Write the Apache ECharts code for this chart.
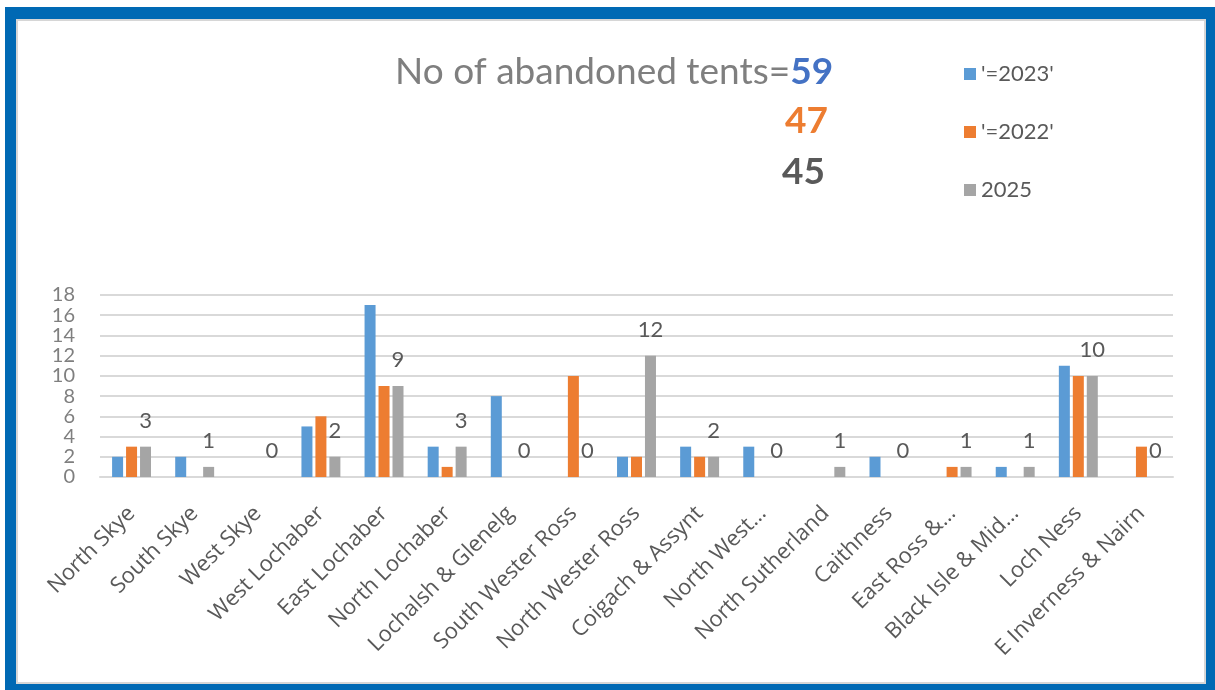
<!DOCTYPE html>
<html>
<head>
<meta charset="utf-8">
<script src="https://cdn.jsdelivr.net/npm/echarts@6/dist/echarts.min.js"></script>
<style>
html,body{margin:0;padding:0;background:#fff;}
#chart{width:1215px;height:690px;}
</style>
</head>
<body>
<div id="chart"></div>
<script>
const categories = ["North Skye","South Skye","West Skye","West Lochaber","East Lochaber","North Lochaber","Lochalsh & Glenelg","South Wester Ross","North Wester Ross","Coigach & Assynt","North West…","North Sutherland","Caithness","East Ross &…","Black Isle & Mid…","Loch Ness","E Inverness & Nairn"];
const seriesNames = ["'=2023'","'=2022'","2025"];
const values2023 = [2,2,0,5,17,3,8,0,2,3,3,0,2,0,1,11,0];
const values2022 = [3,0,0,6,9,1,0,10,2,2,0,0,0,1,0,10,3];
const values2025 = [3,1,0,2,9,3,0,0,12,2,0,1,0,1,1,10,0];
const yTicks = [0,2,4,6,8,10,12,14,16,18];

const sum = a => a.reduce((s,v)=>s+v,0);
const colors = ['#5B9BD5','#ED7D31','#A5A5A5'];

const chart = echarts.init(document.getElementById('chart'), null, {renderer:'canvas'});
const base = {type:'bar', barWidth:11, barGap:'27%'};
chart.setOption({
  animation:false,
  backgroundColor:'#ffffff',
  graphic:[
    {type:'rect', z:-10, shape:{x:5,y:7,width:1215,height:690}, style:{fill:'#0069B4'}},
    {type:'rect', z:-9, shape:{x:17,y:20,width:1188,height:663}, style:{fill:'#ffffff', stroke:'#d6d6d6', lineWidth:2}}
  ],
  title:[
    {text:'No of abandoned tents={a|'+sum(values2023)+'}', left:390, top:49,
     textStyle:{fontFamily:'Lato', fontSize:37, fontWeight:'normal', color:'#7f7f7f',
       rich:{a:{fontFamily:'Lato', fontSize:37, fontWeight:'bold', color:'#4472C4'}}}},
    {text:String(sum(values2022)), right:382, top:98,
     textStyle:{fontFamily:'Lato', fontSize:37, fontWeight:'bold', color:'#ED7D31'}},
    {text:String(sum(values2025)), right:385, top:149,
     textStyle:{fontFamily:'Lato', fontSize:37, fontWeight:'bold', color:'#595959'}}
  ],
  legend:{
    orient:'vertical', left:959, top:58, itemWidth:12, itemHeight:12, itemGap:36,
    icon:'rect',
    textStyle:{fontFamily:'Lato', fontSize:22, color:'#595959'},
    data:seriesNames
  },
  grid:{left:100, right:42, top:295, bottom:213, containLabel:false},
  xAxis:{
    type:'category', data:categories,
    axisLine:{lineStyle:{color:'#d9d9d9', width:2}},
    axisTick:{show:false},
    axisLabel:{interval:0, rotate:45, fontFamily:'Open Sans', fontSize:22, color:'#595959', margin:33}
  },
  yAxis:{
    type:'value', min:0, max:18, interval:2,
    axisLine:{show:false}, axisTick:{show:false},
    axisLabel:{showMinLabel:true, showMaxLabel:true, hideOverlap:false, fontFamily:'Lato', fontSize:20, lineHeight:20, color:'#7f7f7f', margin:25,
      formatter:v=>yTicks.includes(v)?String(v):''},
    splitLine:{lineStyle:{color:'#d9d9d9', width:2}}
  },
  series:[
    Object.assign({}, base, {name:seriesNames[0], data:values2023, itemStyle:{color:colors[0]}}),
    Object.assign({}, base, {name:seriesNames[1], data:values2022, itemStyle:{color:colors[1]}}),
    Object.assign({}, base, {name:seriesNames[2], data:values2025, itemStyle:{color:colors[2]},
      label:{show:true, position:'top', distance:15, fontFamily:'Lato', fontSize:22, color:'#595959'}})
  ]
});
</script>
</body>
</html>
